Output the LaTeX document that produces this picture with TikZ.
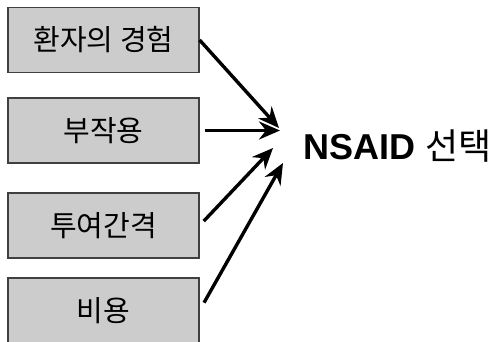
\documentclass[tikz,border=0pt]{standalone}
\usepackage{fontspec}
\setmainfont{Liberation Sans}
\newfontfamily\kr{Noto Sans CJK KR}
\usetikzlibrary{arrows.meta}

\begin{document}
\begin{tikzpicture}[x=1pt, y=1pt]
	\useasboundingbox (0,0) rectangle (501,341);
	
	% define a style of the factor boxes and of the arrows
	\tikzstyle{factor box} = [draw=black!75, line width=1.2pt, fill=black!20, minimum width=191pt, minimum height=65pt, inner sep=0pt, font=\kr\fontsize{29}{32}\selectfont]
	\tikzstyle{factor arrow} = [line width=3.4pt, -{Stealth[length=21pt, width=18pt, inset=7pt]}]
	
	\node[factor box] (experience) at (103.5,301) {환자의 경험};
	\node[factor box] (sideeffect) at (103.5,210.5) {부작용};
	\node[factor box] (interval) at (103.5,115.5) {투여간격};
	\node[factor box] (cost) at (103.5,30.5) {비용};
	
	\node[anchor=west, inner sep=0pt, text height=26pt, text depth=0pt, font=\fontsize{36}{40}\selectfont] (choice) at (303,195) {\textbf{NSAID} {\kr 선택}};
	
	\draw[factor arrow] (experience.east) -- ([xshift=-24pt, yshift=18pt]choice.west);
	\draw[factor arrow, shorten <=5pt] (sideeffect.east) -- ([xshift=-23pt]choice.west |- sideeffect.east);
	\draw[factor arrow, shorten <=6pt] (interval.east) -- ([xshift=-30pt, yshift=-2pt]choice.west);
	\draw[factor arrow, shorten <=9pt] (cost.east) -- ([xshift=-20pt, yshift=-17pt]choice.west);
\end{tikzpicture}
\end{document}
